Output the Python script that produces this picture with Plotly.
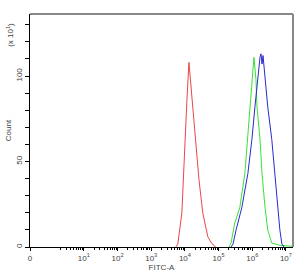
import plotly.graph_objects as go
import math

# log10(FITC-A) positions and counts (x10)
red_x = [3.73, 3.79, 3.91, 4.00, 4.06, 4.12, 4.21, 4.30, 4.42, 4.53, 4.68, 4.80, 4.92]
red_y = [0, 1.8, 20, 63, 86, 108, 86, 68, 39, 20, 6, 2, 0]

green_x = [5.31, 5.37, 5.48, 5.63, 5.78, 5.93, 5.99, 6.05, 6.11, 6.14, 6.23, 6.29, 6.38, 6.46, 6.58, 6.82, 7.12, 7.21]
green_y = [0, 2.3, 14, 23, 43, 82, 98, 111, 98, 82, 63, 43, 23, 10, 2.3, 1, 0.5, 0.5]

blue_x = [5.37, 5.43, 5.52, 5.69, 5.87, 5.99, 6.08, 6.17, 6.23, 6.26, 6.29, 6.32, 6.38, 6.46, 6.58, 6.67, 6.76, 6.82, 6.88, 6.94]
blue_y = [0, 1.8, 10, 23, 43, 63, 82, 100, 111, 113, 107, 112, 98, 82, 63, 43, 23, 10, 1.8, 0]

x_tickvals = [-0.6, 1, 2, 3, 4, 5, 6, 7]
x_ticktext = ["0", "10<sup>1</sup>", "10<sup>2</sup>", "10<sup>3</sup>", "10<sup>4</sup>",
              "10<sup>5</sup>", "10<sup>6</sup>", "10<sup>7</sup>"]
y_tickvals = [0, 50, 100]
y_ticktext = ["0", "50", "100"]

x_minor = [math.log10(k * 10 ** n) for n in range(0, 7) for k in range(2, 10)]
y_minor = [v for v in range(0, 140, 10)]

fig = go.Figure()
fig.add_trace(go.Scatter(x=red_x, y=red_y, mode="lines", line=dict(color="#e84848", width=1)))
fig.add_trace(go.Scatter(x=green_x, y=green_y, mode="lines", line=dict(color="#38e038", width=1)))
fig.add_trace(go.Scatter(x=blue_x, y=blue_y, mode="lines", line=dict(color="#2a2ad0", width=1)))

fig.update_layout(
    width=299, height=275,
    margin=dict(l=30, r=6, t=14, b=28),
    paper_bgcolor="white", plot_bgcolor="white",
    showlegend=False,
    font=dict(family="Liberation Sans, Arial, sans-serif", size=8, color="#444"),
)
fig.update_xaxes(
    range=[-0.6, 7.21], showgrid=False, zeroline=False,
    showline=True, linecolor="black", linewidth=1,
    tickmode="array", tickvals=x_tickvals, ticktext=x_ticktext,
    ticks="outside", ticklen=3, tickcolor="black", tickwidth=1,
    tickfont=dict(size=8, color="#444"),
    minor=dict(tickvals=x_minor, ticks="outside", ticklen=2, tickcolor="black"),
    title=dict(text="FITC-A", font=dict(size=8, color="#444"), standoff=2),
)
fig.update_yaxes(
    range=[0, 136.3], showgrid=False, zeroline=False,
    showline=True, linecolor="black", linewidth=1,
    tickmode="array", tickvals=y_tickvals, ticktext=y_ticktext,
    ticks="outside", ticklen=4, tickcolor="black", tickwidth=1,
    tickangle=-90, tickfont=dict(size=8, color="#444"),
    minor=dict(tickvals=y_minor, ticks="outside", ticklen=4, tickcolor="black"),
    title=dict(text="Count", font=dict(size=8, color="#444"), standoff=1),
)
fig.add_shape(type="line", xref="paper", yref="paper", x0=0, x1=1, y0=1, y1=1,
              line=dict(color="#888", width=2))
fig.add_shape(type="line", xref="paper", yref="paper", x0=1, x1=1, y0=0, y1=1,
              line=dict(color="#888", width=2))
fig.add_annotation(text="(x 10<sup>1</sup>)", xref="paper", yref="paper",
                   x=-0.05, y=0.97, xanchor="right", yanchor="top", textangle=-90,
                   showarrow=False, font=dict(size=8, color="#444"))

fig.write_html("out.html")
